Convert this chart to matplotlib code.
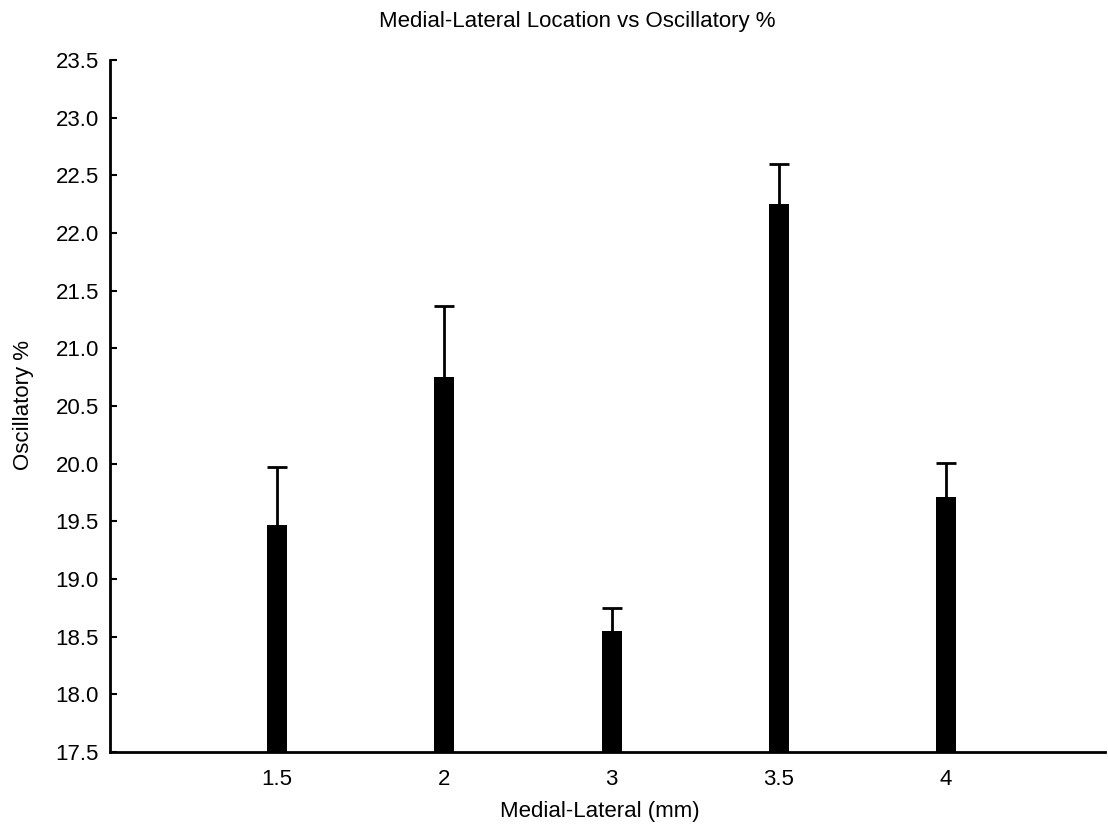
import matplotlib
matplotlib.use("Agg")
import matplotlib.pyplot as plt

# Medial-lateral recording locations and mean oscillatory percentage with upper error
locations = ["1.5", "2", "3", "3.5", "4"]
oscillatory_pct = [19.47, 20.75, 18.55, 22.25, 19.71]
error = [0.50, 0.62, 0.20, 0.35, 0.30]
y_ticks = [17.5, 18.0, 18.5, 19.0, 19.5, 20.0, 20.5, 21.0, 21.5, 22.0, 22.5, 23.0, 23.5]

plt.rcParams["font.family"] = ["Liberation Sans", "DejaVu Sans"]

W, H = 1108, 836
fig = plt.figure(figsize=(W / 100, H / 100), dpi=100)
ax = fig.add_axes([110 / W, 1 - 752 / H, (1105 - 110) / W, (752 - 60) / H])

positions = list(range(len(locations)))
base = y_ticks[0]
bar_width = 0.12
heights = [v - base for v in oscillatory_pct]
ax.bar(positions, heights, bottom=base, width=bar_width, color="black", zorder=2)

# one-sided (upper) error bars with a cap as wide as the bar
tops = [v + e for v, e in zip(oscillatory_pct, error)]
ax.vlines(positions, oscillatory_pct, tops, color="black", linewidth=2, zorder=1)
ax.hlines(tops, [p - bar_width / 2 for p in positions],
          [p + bar_width / 2 for p in positions], color="black", linewidth=2, zorder=1)

ax.set_xlim(-1.0, 4.95)
ax.set_ylim(y_ticks[0], y_ticks[-1])
ax.set_yticks(y_ticks)
ax.set_yticklabels([f"{t:.1f}" for t in y_ticks])
ax.set_xticks(positions)
ax.set_xticklabels(locations)

for side in ("top", "right"):
    ax.spines[side].set_visible(False)
for side in ("left", "bottom"):
    ax.spines[side].set_linewidth(2)

ax.tick_params(axis="y", direction="in", length=5, width=1.5, labelsize=16, pad=8)
ax.tick_params(axis="x", length=0, labelsize=16, pad=12)

ax.set_xlabel("Medial-Lateral (mm)", fontsize=16)
ax.xaxis.set_label_coords(600 / W, 1 - 812 / H, transform=fig.transFigure)
ax.xaxis.label.set_va("center")
ax.set_ylabel("Oscillatory %", fontsize=16)
ax.yaxis.set_label_coords(23 / W, 1 - 405 / H, transform=fig.transFigure)
ax.yaxis.label.set_va("center")

fig.text(577 / W, 1 - 21 / H, "Medial-Lateral Location vs Oscillatory %",
         ha="center", va="center", fontsize=16)

fig.savefig("out.png", dpi=100)
